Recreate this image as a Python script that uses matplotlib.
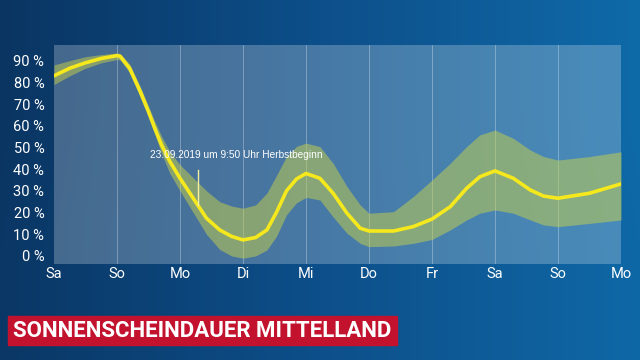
import numpy as np
import matplotlib
matplotlib.use("Agg")
import matplotlib.pyplot as plt
from matplotlib.patches import Rectangle
from matplotlib.colors import LinearSegmentedColormap

# Tage (Achsenbeschriftung) und Stuetzstellen in Tagen
day_labels = ["Sa", "So", "Mo", "Di", "Mi", "Do", "Fr", "Sa", "So", "Mo"]
y_ticks = [0, 10, 20, 30, 40, 50, 60, 70, 80, 90]

t_days = [0, 0.25, 0.5, 0.75, 1.0, 1.05, 1.2, 1.37, 1.5, 1.6, 1.71, 1.84,
          2.0, 2.21, 2.42, 2.63, 2.82, 3.0, 3.2, 3.38, 3.53, 3.69, 3.85, 4.0,
          4.22, 4.43, 4.65, 4.86, 5.0, 5.39, 5.7, 6.0, 6.29, 6.55, 6.76, 7.0,
          7.29, 7.56, 7.77, 8.0, 8.5, 9.0]

# Sonnenscheindauer in % (Mittel)
sun_mean = [83, 86.5, 89, 91, 92.3, 92, 86.5, 75.7, 66.5, 58.8, 51, 43.5,
            35.8, 26.6, 17.4, 12, 9, 7.4, 8.5, 12, 20, 30, 35.5, 38,
            35.8, 28.9, 19.7, 12.8, 11.5, 11.5, 13.5, 17, 22.7, 31.2, 36.5, 39.2,
            35.8, 30.4, 27.6, 26.6, 28.9, 33.2]

# Unsicherheitsband
sun_upper = [88, 90, 91.8, 92.8, 93.5, 93.3, 88.5, 78, 69, 62, 55, 48,
             42, 36, 30, 25, 23, 22, 23.5, 29, 37, 45.8, 50.5, 52,
             50.4, 42.7, 32, 23.5, 19.7, 20.4, 27.3, 35, 42.7, 50.4, 55.8, 58,
             54.2, 48.8, 45.8, 44.2, 45.8, 48]
sun_lower = [79, 83, 86.5, 89, 90.5, 90.3, 84.5, 73, 64, 56, 47, 38,
             30, 20, 10, 3, 0, -1, 0, 2.8, 9, 19, 24.5, 27,
             25.8, 18, 10.5, 5.8, 4.3, 4.6, 5.8, 7.6, 12, 16.6, 19.7, 21.2,
             19.7, 16.6, 14.3, 13.5, 15, 16.6]

fig = plt.figure(figsize=(6.4, 3.6), dpi=100)

# Hintergrund mit Farbverlauf
bg = fig.add_axes([0, 0, 1, 1], zorder=-10)
cmap = LinearSegmentedColormap.from_list("srf", ["#0a3562", "#0d4f8a", "#0f6aa8"])
grad = np.linspace(0, 1, 256)[None, :]
grad = np.vstack([grad, grad * 0.92 + 0.04])
bg.imshow(grad, aspect="auto", cmap=cmap, extent=[0, 1, 0, 1])
bg.set_axis_off()

ax = fig.add_axes([54 / 640, 1 - 264 / 360, 567 / 640, 219 / 360])
ax.set_facecolor((1, 1, 1, 0.245))

ax.fill_between(t_days, sun_lower, sun_upper, color="#c8d24a", alpha=0.5, lw=0)
ax.plot(t_days, sun_mean, color="#f5e81c", lw=2.6, solid_capstyle="round",
        solid_joinstyle="round")

for d in range(1, 9):
    ax.axvline(d, color="white", lw=0.6, alpha=0.35, zorder=0.5)

# Herbstbeginn
ax.plot([2.28, 2.28], [23.5, 39.5], color="#f5f0a0", lw=1.0)
ax.text(2.9, 46.5, "23.09.2019 um 9:50 Uhr Herbstbeginn", color="white",
        fontsize=7.3, family="Liberation Sans", ha="center", va="center")

ax.set_xlim(0, 9)
ax.set_ylim(-3.7, 97.2)
ax.set_xticks(range(10))
ax.set_xticklabels(day_labels)
ax.set_yticks(y_ticks)
ax.set_yticklabels([f"{v} %" for v in y_ticks])
ax.tick_params(length=0, colors="white", labelsize=10.5)
ax.tick_params(axis="y", pad=7)
ax.tick_params(axis="x", pad=2)
for lab in ax.get_xticklabels() + ax.get_yticklabels():
    lab.set_family("Roboto")
for s in ax.spines.values():
    s.set_visible(False)

# Titelbalken
fig.patches.append(Rectangle((8 / 640, 1 - 345 / 360), 389 / 640, 29 / 360,
                             transform=fig.transFigure, color="#c2122e", zorder=5))
fig.text(13 / 640, 1 - 331 / 360, "SONNENSCHEINDAUER MITTELLAND", color="white",
         fontsize=16, fontweight="bold", family="Roboto", va="center", ha="left",
         zorder=6)

fig.savefig("out.png", dpi=100)
